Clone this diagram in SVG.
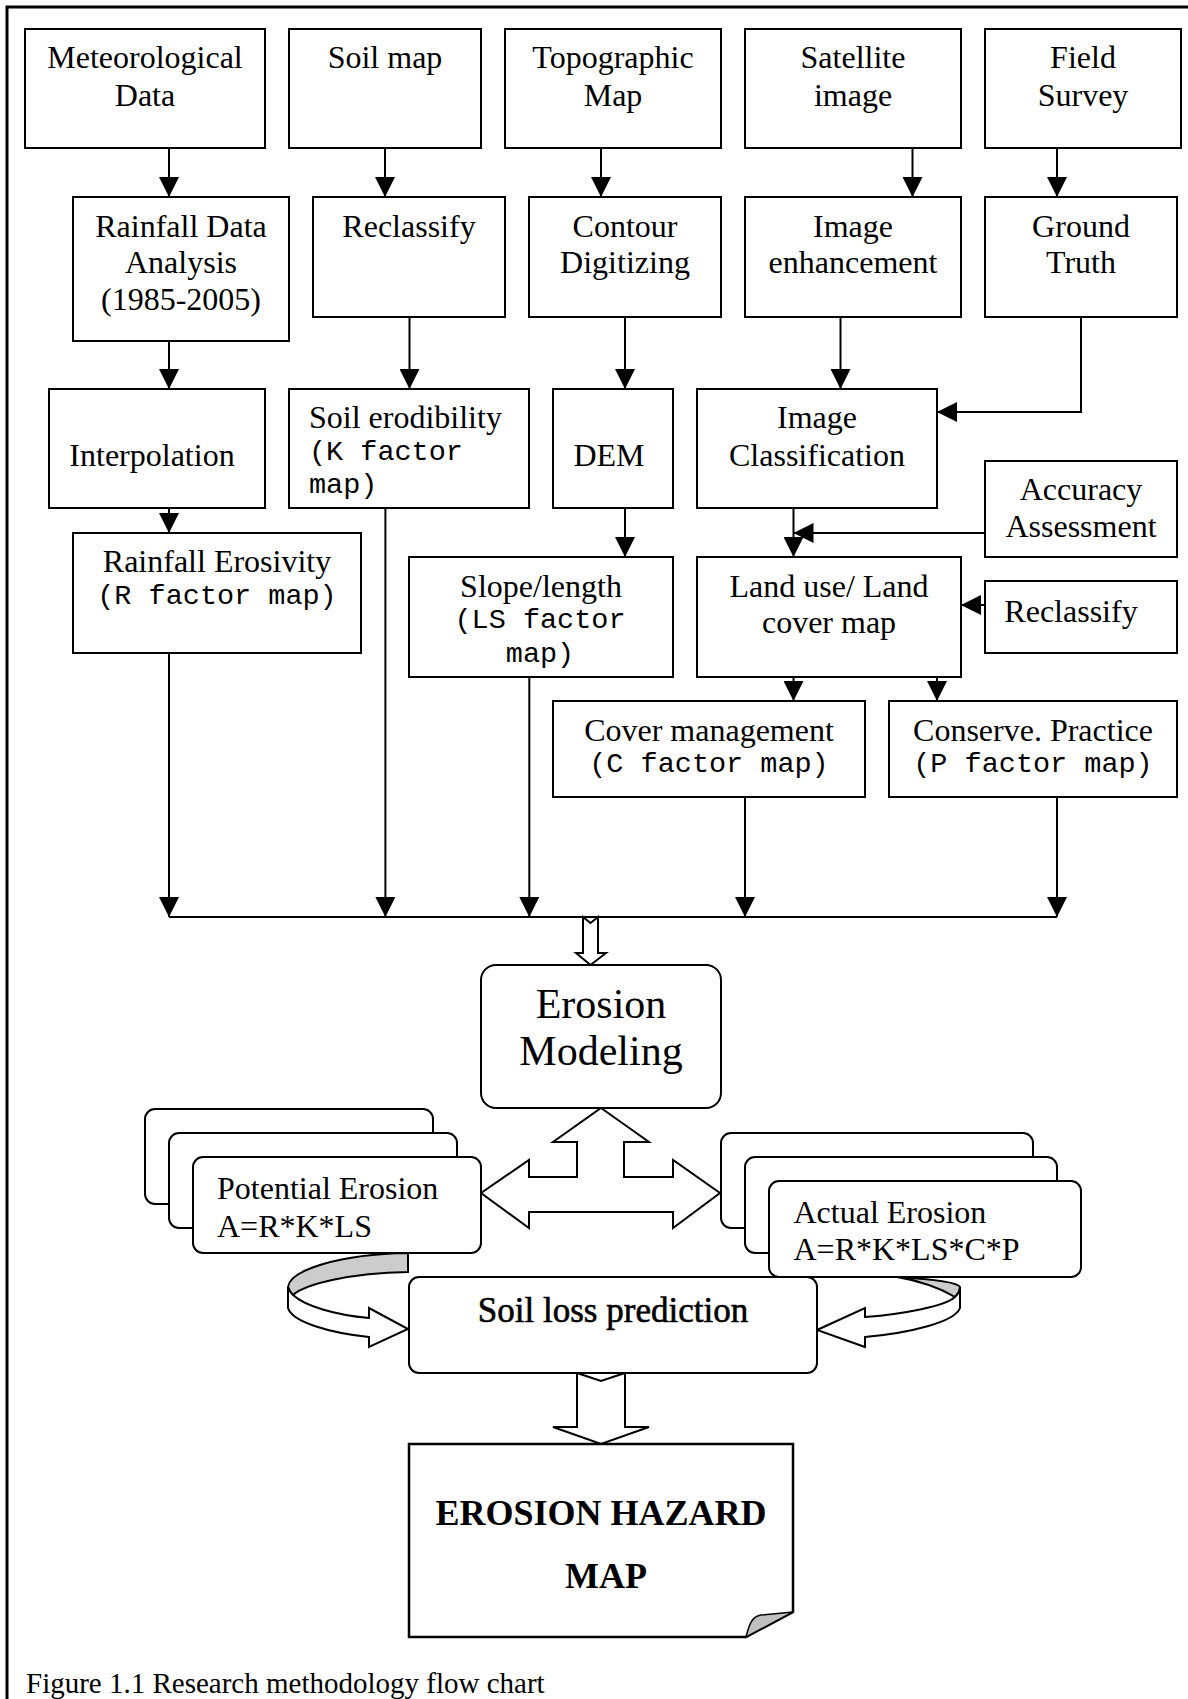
<svg xmlns="http://www.w3.org/2000/svg" width="1188" height="1699" viewBox="0 0 1188 1699">
<style>
.box{fill:#fff;stroke:#000;stroke-width:2}
.rb{fill:#fff;stroke:#000;stroke-width:2}
.t{font-family:"Liberation Serif","Times New Roman",serif;font-size:32px;text-anchor:middle;fill:#000}
.ts{font-family:"Liberation Serif","Times New Roman",serif;font-size:32px;fill:#000}
.m{font-family:"Liberation Mono","Courier New",monospace;font-size:28.5px;text-anchor:middle;fill:#000}
.ms{font-family:"Liberation Mono","Courier New",monospace;font-size:28.5px;fill:#000}
.c{fill:none;stroke:#000;stroke-width:2}
.ca{fill:none;stroke:#000;stroke-width:2;marker-end:url(#ah)}
.hollow{fill:#fff;stroke:#000;stroke-width:2;stroke-linejoin:miter}
.gray{fill:#cccccc;stroke:#000;stroke-width:2}
</style>
<defs>
<marker id="ah" viewBox="0 0 20 20" markerWidth="20" markerHeight="20" refX="20" refY="10" orient="auto" markerUnits="userSpaceOnUse">
<path d="M0,0 L20,10 L0,20 Z" fill="#000"/>
</marker>
</defs>
<rect width="1188" height="1699" fill="#fff"/>
<path d="M7,1699 V7 H1188" fill="none" stroke="#000" stroke-width="3"/>

<g id="connectors">
<path class="ca" d="M169,148 V197"/>
<path class="ca" d="M385,148 V197"/>
<path class="ca" d="M601,148 V197"/>
<path class="ca" d="M912.5,148 V197"/>
<path class="ca" d="M1057,148 V197"/>
<path class="ca" d="M169,341 V389"/>
<path class="ca" d="M409.5,317 V389"/>
<path class="ca" d="M625,317 V389"/>
<path class="ca" d="M840.5,317 V389"/>
<path class="ca" d="M1081,317 V412 H937"/>
<path class="ca" d="M169,508 V533"/>
<path class="ca" d="M625,508 V557"/>
<path class="ca" d="M793.5,508 V557"/>
<path class="ca" d="M985,533 H793.5"/>
<path class="ca" d="M985,605 H961"/>
<path class="ca" d="M793.5,677 V701"/>
<path class="ca" d="M937,677 V701"/>
<path class="ca" d="M169,653 V917"/>
<path class="ca" d="M385.4,508 V917"/>
<path class="ca" d="M529.3,677 V917"/>
<path class="ca" d="M745,797 V917"/>
<path class="ca" d="M1057,797 V917"/>
<path class="c" d="M169,917 H1057"/>
<polygon class="hollow" points="583,917 590.5,923 598,917 598,953 606,953 590.5,965 576,953 583,953"/>
<polygon class="hollow" points="601,1108 649,1142 624,1142 624,1177 673,1177 673,1160 720,1193 673,1228 673,1212 529,1212 529,1228 481,1193 529,1160 529,1177 577,1177 577,1142 553,1142"/>
<path class="gray" d="M408,1253 C340,1254 290,1270 288,1287 C289,1290 291,1293 293,1295 C305,1284 350,1273 408,1272 Z"/>
<path class="hollow" d="M288,1287 C289,1290 291,1293 293,1295 C305,1306 335,1315 369,1318 L369,1308 L408,1329 L369,1347 L369,1337 C330,1333 292,1322 288,1308 Z"/>
<path class="gray" d="M897,1277 C930,1279 958,1282 960,1287 C960,1290 958,1294 955,1297 C940,1288 920,1281 897,1277 Z"/>
<path class="hollow" d="M960,1287 C960,1290 958,1294 955,1297 C945,1306 905,1314 865,1317 L865,1308 L817,1330 L865,1347 L865,1337 C910,1333 955,1322 960,1308 Z"/>
<polygon class="hollow" points="577,1373 601,1381 625,1373 625,1427 649,1427 601,1444 553,1427 577,1427"/>
</g>

<g id="n-meteorological"><rect class="box" x="25" y="29" width="240" height="119"/><text class="t" x="145" y="68">Meteorological</text><text class="t" x="145" y="106">Data</text></g>
<g id="n-soilmap"><rect class="box" x="289" y="29" width="192" height="119"/><text class="t" x="385" y="68">Soil map</text></g>
<g id="n-topographic"><rect class="box" x="505" y="29" width="216" height="119"/><text class="t" x="613" y="68">Topographic</text><text class="t" x="613" y="106">Map</text></g>
<g id="n-satellite"><rect class="box" x="745" y="29" width="216" height="119"/><text class="t" x="853" y="68">Satellite</text><text class="t" x="853" y="106">image</text></g>
<g id="n-field"><rect class="box" x="985" y="29" width="196" height="119"/><text class="t" x="1083" y="68">Field</text><text class="t" x="1083" y="106">Survey</text></g>

<g id="n-rainfall-analysis"><rect class="box" x="73" y="197" width="216" height="144"/><text class="t" x="181" y="237">Rainfall Data</text><text class="t" x="181" y="273">Analysis</text><text class="t" x="181" y="310">(1985-2005)</text></g>
<g id="n-reclassify1"><rect class="box" x="313" y="197" width="192" height="120"/><text class="t" x="409" y="237">Reclassify</text></g>
<g id="n-contour"><rect class="box" x="529" y="197" width="192" height="120"/><text class="t" x="625" y="237">Contour</text><text class="t" x="625" y="273">Digitizing</text></g>
<g id="n-enhancement"><rect class="box" x="745" y="197" width="216" height="120"/><text class="t" x="853" y="237">Image</text><text class="t" x="853" y="273">enhancement</text></g>
<g id="n-groundtruth"><rect class="box" x="985" y="197" width="192" height="120"/><text class="t" x="1081" y="237">Ground</text><text class="t" x="1081" y="273">Truth</text></g>

<g id="n-interpolation"><rect class="box" x="49" y="389" width="216" height="119"/><text class="t" x="152" y="466">Interpolation</text></g>
<g id="n-erodibility"><rect class="box" x="289" y="389" width="240" height="119"/><text class="ts" x="309" y="428">Soil erodibility</text><text class="ms" x="309" y="460">(K factor</text><text class="ms" x="309" y="493">map)</text></g>
<g id="n-dem"><rect class="box" x="553" y="389" width="120" height="119"/><text class="t" x="609" y="466">DEM</text></g>
<g id="n-classification"><rect class="box" x="697" y="389" width="240" height="119"/><text class="t" x="817" y="428">Image</text><text class="t" x="817" y="466">Classification</text></g>
<g id="n-accuracy"><rect class="box" x="985" y="461" width="192" height="96"/><text class="t" x="1081" y="500">Accuracy</text><text class="t" x="1081" y="537">Assessment</text></g>
<g id="n-erosivity"><rect class="box" x="73" y="533" width="288" height="120"/><text class="t" x="217" y="572">Rainfall Erosivity</text><text class="m" x="217" y="604">(R factor map)</text></g>
<g id="n-slope"><rect class="box" x="409" y="557" width="264" height="120"/><text class="t" x="541" y="597">Slope/length</text><text class="m" x="540" y="628">(LS factor</text><text class="m" x="540" y="662">map)</text></g>
<g id="n-landuse"><rect class="box" x="697" y="557" width="264" height="120"/><text class="t" x="829" y="597">Land use/ Land</text><text class="t" x="829" y="633">cover map</text></g>
<g id="n-reclassify2"><rect class="box" x="985" y="581" width="192" height="72"/><text class="t" x="1071" y="622">Reclassify</text></g>
<g id="n-cover"><rect class="box" x="553" y="701" width="312" height="96"/><text class="t" x="709" y="741">Cover management</text><text class="m" x="709" y="772">(C factor map)</text></g>
<g id="n-conserve"><rect class="box" x="889" y="701" width="288" height="96"/><text class="t" x="1033" y="741">Conserve. Practice</text><text class="m" x="1033" y="772">(P factor map)</text></g>

<g id="n-modeling"><rect class="rb" x="481" y="965" width="240" height="143" rx="15"/><text class="t" x="601" y="1018" style="font-size:42px">Erosion</text><text class="t" x="601" y="1065" style="font-size:42px">Modeling</text></g>

<g id="n-potential"><rect class="rb" x="145" y="1109" width="288" height="95" rx="10"/><rect class="rb" x="169" y="1133" width="288" height="95" rx="10"/><rect class="rb" x="193" y="1157" width="288" height="96" rx="10"/><text class="ts" x="217" y="1199">Potential Erosion</text><text class="ts" x="217" y="1237">A=R*K*LS</text></g>
<g id="n-actual"><rect class="rb" x="721" y="1133" width="312" height="95" rx="10"/><rect class="rb" x="745" y="1157" width="312" height="96" rx="10"/><rect class="rb" x="769" y="1181" width="312" height="96" rx="10"/><text class="ts" x="793.5" y="1223">Actual Erosion</text><text class="ts" x="793.5" y="1260">A=R*K*LS*C*P</text></g>

<g id="n-soilloss"><rect class="rb" x="409" y="1277" width="408" height="96" rx="10"/><text class="t" x="613" y="1322" style="font-size:35px;stroke:#000;stroke-width:0.6">Soil loss prediction</text></g>

<g id="n-hazardmap"><polygon points="409,1444 793,1444 793,1612 746,1637 409,1637" fill="#fff" stroke="#000" stroke-width="2.5"/><path d="M746,1637 C749,1625 752,1616 761,1615 L793,1612 Z" fill="#c0c0c0" stroke="#000" stroke-width="1.5"/><text class="t" x="601" y="1525" style="font-size:36px;font-weight:bold">EROSION HAZARD</text><text class="t" x="606" y="1588" style="font-size:36px;font-weight:bold">MAP</text></g>

<text class="ts" x="26" y="1693" style="font-size:29px">Figure 1.1 Research methodology flow chart</text>
</svg>
